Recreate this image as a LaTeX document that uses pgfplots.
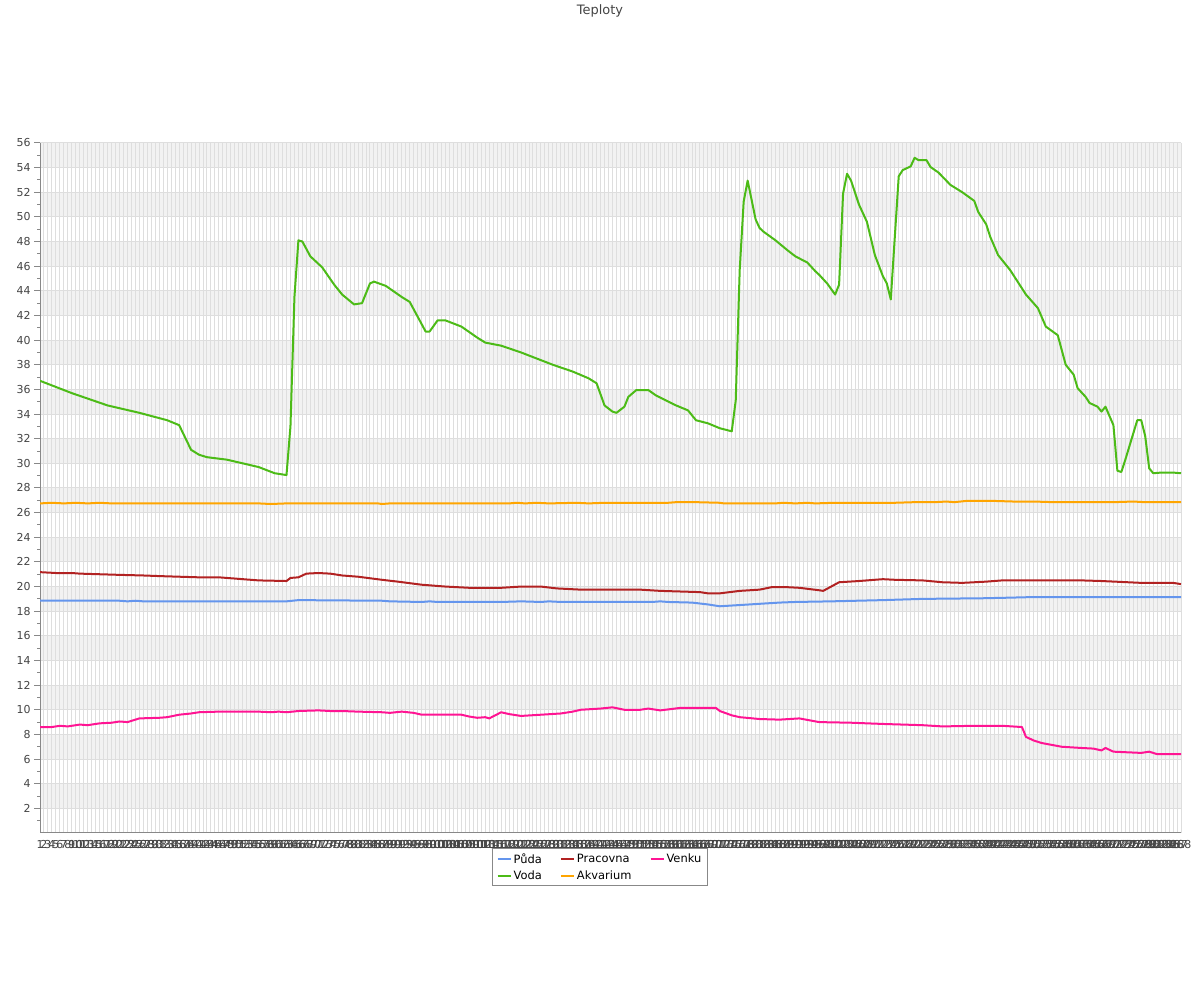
\documentclass[border=0pt]{standalone}
\usepackage{pgfplots}
\pgfplotsset{compat=1.18}
\usepackage{fontspec}
\setmainfont{DejaVu Sans}
\definecolor{cPuda}{HTML}{6495ED}
\definecolor{cVoda}{HTML}{4CBB17}
\definecolor{cPrac}{HTML}{B22222}
\definecolor{cAkva}{HTML}{FFA500}
\definecolor{cVenku}{HTML}{FF1493}
\definecolor{bandgray}{HTML}{F2F2F2}
\definecolor{gridgray}{HTML}{DEDEDE}
\definecolor{txtgray}{HTML}{444444}
\definecolor{axgray}{HTML}{888888}
\begin{document}
\begin{tikzpicture}
\begin{axis}[
  set layers,
  at={(40bp,167bp)}, anchor=south west, scale only axis,
  width=1141bp, height=690bp,
  xmin=0, xmax=287, ymin=0, ymax=56,
  axis lines*=left,
  axis line style={axgray, line width=1bp, -},
  xtick={0,...,287},
  xticklabel={\pgfmathparse{int(round(\tick+1))}\pgfmathresult},
  xticklabel style={font=\fontsize{11}{11}\selectfont, text=txtgray, inner sep=1bp},
  ytick={2,4,...,56},
  minor ytick={1,3,...,55},
  yticklabel style={font=\fontsize{11}{11}\selectfont, text=txtgray},
  /pgf/number format/assume math mode=true,
  tick align=outside,
  x tick style={draw=none},
  y tick style={axgray, line width=1bp},
  major tick length=6bp, minor tick length=3bp,
  xmajorgrids, ymajorgrids,
  grid style={gridgray, line width=1bp},
  legend columns=3,
  legend cell align=left,
  legend style={at={(axis description cs:0.4908,-0.0217)}, anchor=north,
    draw=axgray, line width=1bp, font=\fontsize{11.5}{12}\selectfont,
    inner xsep=4bp, inner ysep=3bp, row sep=2bp,
    /tikz/every even column/.append style={column sep=16bp}},
  legend image code/.code={\draw[#1] (0bp,0bp) -- (13bp,0bp);},
  every axis plot/.append style={line width=2bp, line join=round},
]
\pgfplotsextra{%
\begin{pgfonlayer}{axis background}
\fill[bandgray] (axis cs:0,2) rectangle (axis cs:287,4);
\fill[bandgray] (axis cs:0,6) rectangle (axis cs:287,8);
\fill[bandgray] (axis cs:0,10) rectangle (axis cs:287,12);
\fill[bandgray] (axis cs:0,14) rectangle (axis cs:287,16);
\fill[bandgray] (axis cs:0,18) rectangle (axis cs:287,20);
\fill[bandgray] (axis cs:0,22) rectangle (axis cs:287,24);
\fill[bandgray] (axis cs:0,26) rectangle (axis cs:287,28);
\fill[bandgray] (axis cs:0,30) rectangle (axis cs:287,32);
\fill[bandgray] (axis cs:0,34) rectangle (axis cs:287,36);
\fill[bandgray] (axis cs:0,38) rectangle (axis cs:287,40);
\fill[bandgray] (axis cs:0,42) rectangle (axis cs:287,44);
\fill[bandgray] (axis cs:0,46) rectangle (axis cs:287,48);
\fill[bandgray] (axis cs:0,50) rectangle (axis cs:287,52);
\fill[bandgray] (axis cs:0,54) rectangle (axis cs:287,56);
\end{pgfonlayer}}

% Puda
\addplot[cPuda] coordinates {
(0,18.85)(20,18.85)(22,18.8)(24,18.85)(26,18.8)(40,18.8)(62,18.8)(65,18.9)(86,18.85)(88,18.8)(96,18.75)(98,18.8)(100,18.75)
(116,18.75)(121,18.8)(126,18.75)(128,18.8)(131,18.75)(154,18.75)(156,18.8)(158,18.75)(164,18.7)(168,18.55)(171,18.4)(176,18.5)
(186,18.7)(190,18.75)(199,18.8)(212,18.9)(222,19.0)(237,19.05)(244,19.1)(250,19.15)(287,19.15)};
\addlegendentry{Půda}
% Pracovna
\addplot[cPrac] coordinates {
(0,21.17)(4,21.1)(8,21.1)(10,21.05)(15,21.0)(20,20.95)(26,20.9)(30,20.85)(40,20.75)(45,20.75)(53,20.55)(55,20.5)(62,20.45)(63,20.7)(65,20.75)
(67,21.05)(70,21.1)(73,21.05)(76,20.9)(80,20.8)(86,20.55)(90,20.4)(96,20.15)(102,20.0)(108,19.9)(116,19.9)(121,20.0)(126,20.0)(130,19.85)
(136,19.75)(151,19.75)(156,19.65)(166,19.55)(168,19.45)(171,19.45)(176,19.65)(181,19.75)(184,19.95)(188,19.95)(191,19.9)(196,19.7)(197,19.65)
(201,20.35)(206,20.45)(212,20.6)(215,20.55)(222,20.5)(227,20.35)(232,20.3)(238,20.4)(242,20.5)(252,20.5)(262,20.5)(267,20.45)(277,20.3)(285,20.3)(287,20.2)};
\addlegendentry{Pracovna}
% Venku
\addplot[cVenku] coordinates {
(0,8.6)(3,8.6)(5,8.7)(7,8.65)(10,8.8)(12,8.75)(15,8.9)(18,8.95)(20,9.05)(22,9.0)(25,9.3)(30,9.35)(32,9.4)(35,9.6)(38,9.7)(40,9.8)
(45,9.85)(55,9.85)(58,9.8)(60,9.85)(62,9.8)(65,9.9)(70,9.95)(73,9.9)(76,9.9)(80,9.85)(86,9.8)(88,9.75)(91,9.85)(94,9.75)(96,9.6)
(100,9.6)(106,9.6)(108,9.45)(110,9.35)(112,9.4)(113,9.3)(116,9.8)(118,9.65)(121,9.5)(126,9.6)(131,9.7)(134,9.85)(136,10.0)
(141,10.1)(144,10.2)(147,10.0)(151,10.0)(153,10.1)(156,9.95)(161,10.15)(170,10.15)(171,9.9)(174,9.55)(176,9.4)(181,9.25)(186,9.2)
(191,9.3)(196,9.0)(204,8.95)(212,8.85)(222,8.75)(227,8.65)(235,8.7)(242,8.7)(247,8.6)(248,7.8)(250,7.5)(252,7.3)(257,7.0)(262,6.9)
(265,6.85)(267,6.7)(268,6.9)(270,6.6)(277,6.5)(279,6.6)(281,6.4)(287,6.4)};
\addlegendentry{Venku}
% Voda
\addplot[cVoda] coordinates {
(0,36.7)(8,35.7)(17,34.7)(25,34.1)(32,33.5)(35,33.1)(38,31.1)(40,30.7)(42,30.5)(47,30.3)(55,29.7)(59,29.2)(62,29.05)
(63,33.0)(64,43.5)(65,48.1)(66,48.0)(68,46.8)(71,45.9)(74,44.5)(76,43.7)(79,42.9)(81,43.0)(83,44.6)(84,44.75)(87,44.4)(91,43.5)
(93,43.1)(97,40.7)(98,40.7)(100,41.6)(102,41.6)(106,41.1)(110,40.2)(112,39.8)(116,39.55)(121,39.0)(125,38.5)(129,38.0)
(134,37.45)(138,36.9)(140,36.5)(142,34.7)(144,34.2)(145,34.1)(147,34.6)(148,35.4)(150,35.95)(153,35.95)(155,35.5)(160,34.7)
(163,34.3)(165,33.5)(168,33.25)(171,32.85)(174,32.6)(175,35.1)(176,45.7)(177,51.25)(178,52.95)(180,49.8)(181,49.1)(182,48.8)
(185,48.1)(188,47.3)(190,46.8)(193,46.3)(195,45.6)(196,45.3)(198,44.6)(200,43.7)(201,44.5)(202,51.9)(203,53.5)(204,52.95)
(206,51.0)(208,49.6)(210,46.9)(212,45.2)(213,44.6)(214,43.3)(216,53.3)(217,53.8)(219,54.1)(220,54.8)(221,54.6)(223,54.6)
(224,54.05)(226,53.6)(229,52.6)(232,52.0)(235,51.3)(236,50.4)(238,49.4)(239,48.4)(241,46.9)(244,45.7)(248,43.7)(251,42.6)
(253,41.1)(256,40.4)(258,38.0)(260,37.2)(261,36.1)(263,35.4)(264,34.9)(266,34.6)(267,34.2)(268,34.6)(270,33.1)(271,29.4)
(272,29.3)(273,30.3)(276,33.5)(277,33.5)(278,32.2)(279,29.6)(280,29.2)(282,29.25)(285,29.25)(287,29.2)};
\addlegendentry{Voda}
% Akvarium
\addplot[cAkva] coordinates {
(0,26.75)(3,26.8)(6,26.75)(9,26.8)(12,26.75)(15,26.8)(18,26.75)(55,26.75)(58,26.7)(62,26.75)(85,26.75)(86,26.7)(88,26.75)
(118,26.75)(120,26.8)(122,26.75)(125,26.8)(128,26.75)(135,26.8)(138,26.75)(142,26.8)(150,26.8)(158,26.8)(160,26.85)(165,26.85)
(171,26.8)(172,26.75)(185,26.75)(187,26.8)(190,26.75)(193,26.8)(195,26.75)(200,26.8)(215,26.8)(220,26.85)(225,26.85)(228,26.9)
(230,26.85)(233,26.95)(240,26.95)(245,26.9)(250,26.9)(255,26.85)(260,26.85)(270,26.85)(275,26.9)(278,26.85)(287,26.85)};
\addlegendentry{Akvarium}
\end{axis}
\path (0bp,0bp) rectangle (1200bp,1000bp);
\node[text=txtgray, font=\fontsize{13}{13}\selectfont] at (600bp,989bp) {Teploty};
\end{tikzpicture}
\end{document}
